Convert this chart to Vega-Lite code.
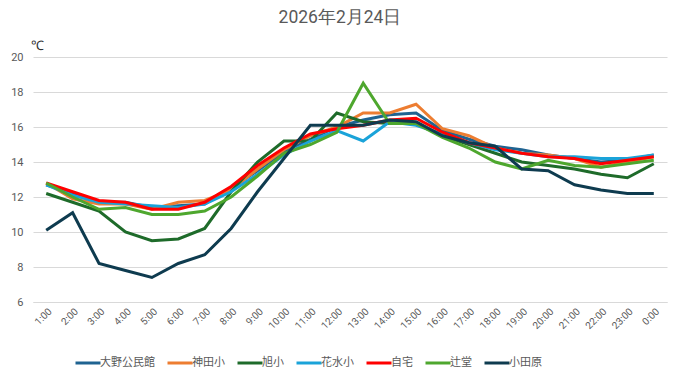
{
  "$schema": "https://vega.github.io/schema/vega-lite/v6.json",
  "width": 634,
  "height": 245,
  "autosize": {"type": "none"},
  "padding": {"left": 33, "top": 57, "right": 14, "bottom": 77},
  "background": "white",
  "title": {"text": "2026年2月24日", "fontSize": 17.5, "font": "Roboto", "fontWeight": "normal", "color": "#595959", "anchor": "middle", "dx": -10, "offset": 13},
  "config": {
    "view": {"stroke": null},
    "font": "Noto Sans CJK JP",
    "axis": {"labelColor": "#595959", "labelFont": "Roboto", "domain": false, "ticks": false}
  },
  "datasets": {
    "t": [
      {"time":"1:00","大野公民館":12.7,"神田小":12.8,"旭小":12.2,"花水小":12.7,"自宅":12.8,"辻堂":12.8,"小田原":10.1},
      {"time":"2:00","大野公民館":12.2,"神田小":11.9,"旭小":11.7,"花水小":12.1,"自宅":12.3,"辻堂":12.0,"小田原":11.1},
      {"time":"3:00","大野公民館":11.7,"神田小":11.6,"旭小":11.2,"花水小":11.7,"自宅":11.8,"辻堂":11.3,"小田原":8.2},
      {"time":"4:00","大野公民館":11.7,"神田小":11.6,"旭小":10.0,"花水小":11.6,"自宅":11.7,"辻堂":11.4,"小田原":7.8},
      {"time":"5:00","大野公民館":11.4,"神田小":11.3,"旭小":9.5,"花水小":11.5,"自宅":11.3,"辻堂":11.0,"小田原":7.4},
      {"time":"6:00","大野公民館":11.5,"神田小":11.7,"旭小":9.6,"花水小":11.4,"自宅":11.3,"辻堂":11.0,"小田原":8.2},
      {"time":"7:00","大野公民館":11.6,"神田小":11.8,"旭小":10.2,"花水小":11.6,"自宅":11.7,"辻堂":11.2,"小田原":8.7},
      {"time":"8:00","大野公民館":12.5,"神田小":12.4,"旭小":12.3,"花水小":12.3,"自宅":12.6,"辻堂":12.0,"小田原":10.2},
      {"time":"9:00","大野公民館":13.5,"神田小":13.6,"旭小":14.0,"花水小":13.3,"自宅":13.8,"辻堂":13.2,"小田原":12.3},
      {"time":"10:00","大野公民館":14.6,"神田小":14.7,"旭小":15.2,"花水小":14.4,"自宅":14.8,"辻堂":14.5,"小田原":14.2},
      {"time":"11:00","大野公民館":15.3,"神田小":15.5,"旭小":15.2,"花水小":15.2,"自宅":15.6,"辻堂":15.0,"小田原":16.1},
      {"time":"12:00","大野公民館":16.0,"神田小":16.0,"旭小":16.8,"花水小":15.8,"自宅":15.9,"辻堂":15.7,"小田原":16.1},
      {"time":"13:00","大野公民館":16.4,"神田小":16.8,"旭小":16.3,"花水小":15.2,"自宅":16.1,"辻堂":18.5,"小田原":16.1},
      {"time":"14:00","大野公民館":16.7,"神田小":16.8,"旭小":16.2,"花水小":16.3,"自宅":16.4,"辻堂":16.2,"小田原":16.4},
      {"time":"15:00","大野公民館":16.8,"神田小":17.3,"旭小":16.2,"花水小":16.1,"自宅":16.5,"辻堂":16.2,"小田原":16.3},
      {"time":"16:00","大野公民館":15.8,"神田小":15.9,"旭小":15.5,"花水小":15.6,"自宅":15.7,"辻堂":15.4,"小田原":15.5},
      {"time":"17:00","大野公民館":15.3,"神田小":15.5,"旭小":15.0,"花水小":15.1,"自宅":15.1,"辻堂":14.8,"小田原":15.1},
      {"time":"18:00","大野公民館":14.9,"神田小":14.8,"旭小":14.5,"花水小":14.7,"自宅":14.8,"辻堂":14.0,"小田原":14.9},
      {"time":"19:00","大野公民館":14.7,"神田小":14.5,"旭小":14.0,"花水小":14.5,"自宅":14.5,"辻堂":13.6,"小田原":13.6},
      {"time":"20:00","大野公民館":14.4,"神田小":14.4,"旭小":13.8,"花水小":14.3,"自宅":14.3,"辻堂":14.1,"小田原":13.5},
      {"time":"21:00","大野公民館":14.2,"神田小":14.2,"旭小":13.6,"花水小":14.3,"自宅":14.2,"辻堂":13.8,"小田原":12.7},
      {"time":"22:00","大野公民館":14.0,"神田小":13.7,"旭小":13.3,"花水小":14.2,"自宅":13.9,"辻堂":13.7,"小田原":12.4},
      {"time":"23:00","大野公民館":14.1,"神田小":14.0,"旭小":13.1,"花水小":14.2,"自宅":14.1,"辻堂":13.9,"小田原":12.2},
      {"time":"0:00","大野公民館":14.4,"神田小":14.3,"旭小":13.9,"花水小":14.4,"自宅":14.3,"辻堂":14.1,"小田原":12.2}
    ]
  },
  "data": {"name": "t"},
  "transform": [
    {"fold": ["大野公民館","神田小","旭小","花水小","自宅","辻堂","小田原"], "as": ["site","temp"]}
  ],
  "mark": {"type": "line", "strokeWidth": 3, "strokeJoin": "miter"},
  "encoding": {
    "x": {
      "field": "time", "type": "ordinal", "sort": null,
      "scale": {"type": "point", "padding": 0.5},
      "axis": {"title": null, "labelAngle": -45, "labelFontSize": 10, "labelPadding": 4, "grid": false, "domain": true, "domainColor": "#d9d9d9", "domainWidth": 1}
    },
    "y": {
      "field": "temp", "type": "quantitative",
      "scale": {"domain": [6, 20], "nice": false, "zero": false},
      "axis": {"values": [6,8,10,12,14,16,18,20], "title": "℃", "titleAngle": 0, "titleAlign": "left", "titleBaseline": "bottom", "titleX": -3, "titleY": -5, "titleFontSize": 13, "titleFontWeight": "normal", "titleColor": "#333333", "titleFont": "Roboto", "labelFontSize": 11, "labelPadding": 10, "gridColor": "#d9d9d9", "grid": true}
    },
    "color": {
      "field": "site", "type": "nominal",
      "scale": {"domain": ["大野公民館","神田小","旭小","花水小","自宅","辻堂","小田原"], "range": ["#1f6391","#ed7d31","#1e6b2a","#1aa3d9","#ff0000","#4ea72e","#0e3b4f"]},
      "legend": {"title": null, "orient": "none", "direction": "horizontal", "legendX": 41, "legendY": 292, "symbolType": "stroke", "symbolSize": 625, "symbolStrokeWidth": 3, "labelFontSize": 11, "labelColor": "#595959", "labelOffset": -2, "columnPadding": 6}
    }
  }
}
